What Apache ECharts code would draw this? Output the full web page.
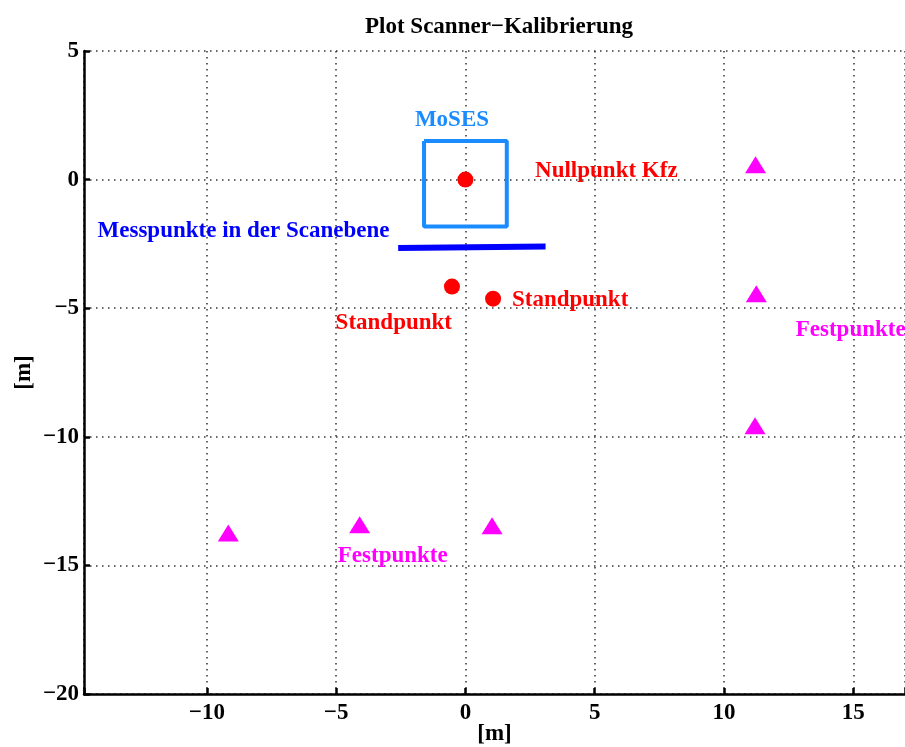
<!DOCTYPE html>
<html>
<head>
<meta charset="utf-8">
<script src="https://cdn.jsdelivr.net/npm/echarts@6/dist/echarts.min.js"></script>
<style>
  html, body { margin: 0; padding: 0; background: #fff; }
  #chart { width: 905px; height: 747px; }
</style>
</head>
<body>
<div id="chart"></div>
<script>
// Kfz-Nullpunkt und Standpunkte des Scanners
const nullpunkt = [[0, 0]];
const standpunkte = [[-0.52, -4.16], [1.07, -4.63]];

// Festpunkte (Dreiecke)
const festpunkte = [
  [11.22, 0.58],
  [11.25, -4.44],
  [11.2, -9.57],
  [-9.17, -13.74],
  [-4.09, -13.42],
  [1.03, -13.46],
];

// MoSES-Umriss und Messlinie in der Scanebene
const mosesBox = [[-1.6, 1.5], [1.6, 1.5], [1.6, -1.82], [-1.6, -1.82], [-1.6, 1.5]];
const messLinie = [[-2.6, -2.66], [3.1, -2.6]];

// Beschriftungen (Text, x, y in Metern, Farbe)
const beschriftungen = [
  ["MoSES", -0.52, 2.3, "#1a8cff"],
  ["Nullpunkt Kfz", 5.45, 0.35, "#ff0000"],
  ["Messpunkte in der Scanebene", -8.58, -2.02, "#0000ff"],
  ["Standpunkt", 4.05, -4.67, "#ff0000"],
  ["Standpunkt", -2.77, -5.56, "#ff0000"],
  ["Festpunkte", 14.9, -5.84, "#ff00ff"],
  ["Festpunkte", -2.81, -14.63, "#ff00ff"],
];

const FONT = "Liberation Serif";
const minus = (v) => String(v).replace("-", "\u2212");

const myChart = echarts.init(document.getElementById("chart"));

const axisCommon = {
  type: "value",
  nameLocation: "middle",
  nameMoveOverlap: false,
  nameTextStyle: { fontFamily: FONT, fontWeight: "bold", fontSize: 23, color: "#000" },
  axisLine: { show: true, onZero: false, lineStyle: { color: "#000", width: 2.5 } },
  axisTick: { show: true, inside: true, length: 6, lineStyle: { color: "#000", width: 2.5 } },
  axisLabel: {
    fontFamily: FONT,
    fontWeight: "bold",
    fontSize: 23,
    color: "#000",
    formatter: (v) => (Math.abs(v % 5) < 1e-9 ? minus(v) : ""),
  },
  splitLine: {
    show: true,
    lineStyle: { color: "#333", type: [1.5, 4.5], width: 1.5 },
  },
};

myChart.setOption({
  animation: false,
  title: {
    text: "Plot Scanner\u2212Kalibrierung",
    left: 494,
    top: 11,
    textAlign: "center",
    textStyle: { fontFamily: FONT, fontWeight: "bold", fontSize: 23, color: "#000" },
  },
  grid: { left: 84, right: 0, top: 51, bottom: 53, outerBoundsMode: "none", containLabel: false },
  xAxis: {
    ...axisCommon,
    min: -14.75,
    max: 17,
    splitNumber: 6,
    name: "[m]",
    nameGap: 29,
    axisLabel: { ...axisCommon.axisLabel, margin: 8 },
  },
  yAxis: {
    ...axisCommon,
    min: -20,
    max: 5,
    interval: 5,
    name: "[m]",
    nameGap: 48,
    axisLabel: { ...axisCommon.axisLabel, margin: 5 },
  },
  series: [
    {
      name: "MoSES",
      type: "line",
      data: mosesBox,
      symbol: "none",
      silent: true,
      clip: false,
      lineStyle: { color: "#1a8cff", width: 4 },
    },
    {
      name: "Messpunkte",
      type: "line",
      data: messLinie,
      symbol: "none",
      silent: true,
      clip: false,
      lineStyle: { color: "#0000ff", width: 6 },
    },
    {
      name: "Nullpunkt",
      type: "scatter",
      data: nullpunkt.concat(standpunkte),
      symbol: "circle",
      symbolSize: 16,
      silent: true,
      itemStyle: { color: "#ff0000", opacity: 1 },
    },
    {
      name: "Festpunkte",
      type: "scatter",
      data: festpunkte,
      symbol: "triangle",
      symbolSize: [21, 17],
      silent: true,
      itemStyle: { color: "#ff00ff", opacity: 1 },
    },
    {
      name: "Text",
      type: "scatter",
      symbolSize: 0,
      silent: true,
      clip: false,
      itemStyle: { opacity: 1 },
      data: beschriftungen.map(([t, x, y, c]) => ({
        value: [x, y],
        label: {
          show: true,
          position: "inside",
          formatter: t,
          color: c,
          opacity: 1,
          fontFamily: FONT,
          fontWeight: "bold",
          fontSize: 23,
        },
      })),
    },
  ],
});

window.addEventListener("resize", myChart.resize);
</script>
</body>
</html>
